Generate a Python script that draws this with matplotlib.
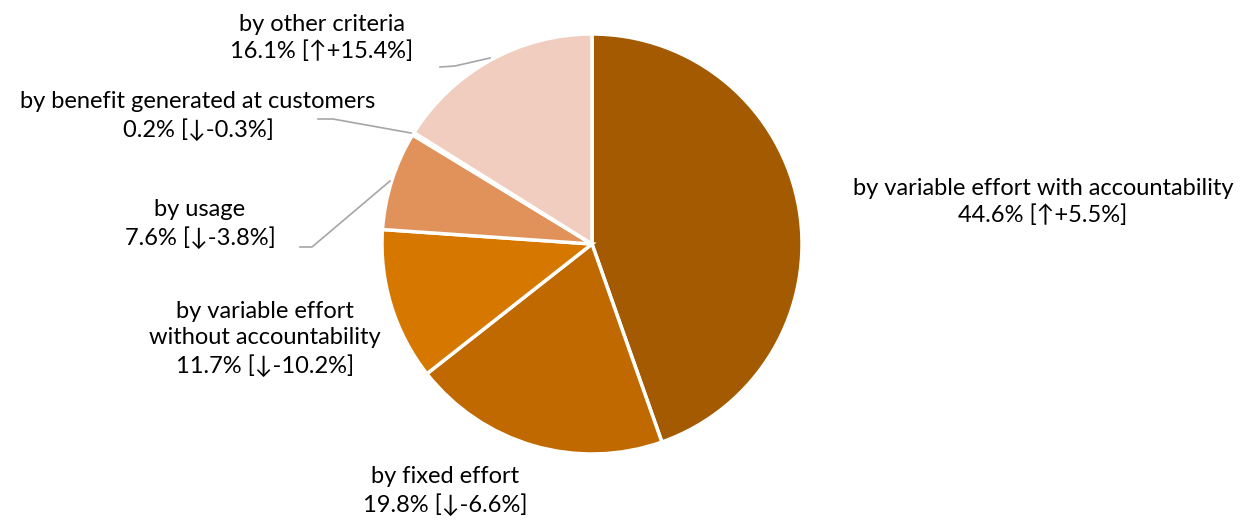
import matplotlib
matplotlib.use("Agg")
import matplotlib.pyplot as plt

plt.rcParams['font.family'] = ['Lato', 'DejaVu Sans']

categories = ['by variable effort with accountability', 'by fixed effort',
              'by variable effort\nwithout accountability', 'by usage',
              'by benefit generated at customers', 'by other criteria']
shares = [44.6, 19.8, 11.7, 7.6, 0.2, 16.1]
changes = ['↑+5.5%', '↓-6.6%', '↓-10.2%', '↓-3.8%', '↓-0.3%', '↑+15.4%']
colors = ['#A35A00', '#C06900', '#D67800', '#E0925A', '#E8B08A', '#F0CDBE']

W, H = 1259, 523
fig = plt.figure(figsize=(W / 100, H / 100), dpi=100)
cx, cy, r = 592, 244, 210
ax = fig.add_axes([(cx - r) / W, (H - cy - r) / H, 2 * r / W, 2 * r / H])
ax.pie(shares, colors=colors, startangle=90, counterclock=False, radius=1,
       wedgeprops=dict(edgecolor='white', linewidth=2.5))
ax.set_xlim(-1, 1)
ax.set_ylim(-1, 1)
ax.set_aspect('auto')
ax.axis('off')

# label block centres in pixels
label_pos = [(1043, 202), (445, 491), (265, 339), (200, 224), (198, 116), (322, 38)]

def to_fig(px, py):
    return px / W, 1 - py / H

for cat, s, ch, (px, py) in zip(categories, shares, changes, label_pos):
    fx, fy = to_fig(px, py)
    fig.text(fx, fy, f'{cat}\n{s}% [{ch}]', ha='center', va='center',
             fontsize=17, linespacing=1.3, color='black')

# leader lines
leaders = [
    [(440, 67), (455, 66), (490, 58)],
    [(318, 119), (333, 119), (411, 133)],
    [(300, 247), (312, 247), (390, 181)],
]
for pts in leaders:
    xs = [p[0] / W for p in pts]
    ys = [1 - p[1] / H for p in pts]
    fig.add_artist(plt.Line2D(xs, ys, color='#A6A6A6', linewidth=1.2))

fig.savefig('out.png', dpi=100)
